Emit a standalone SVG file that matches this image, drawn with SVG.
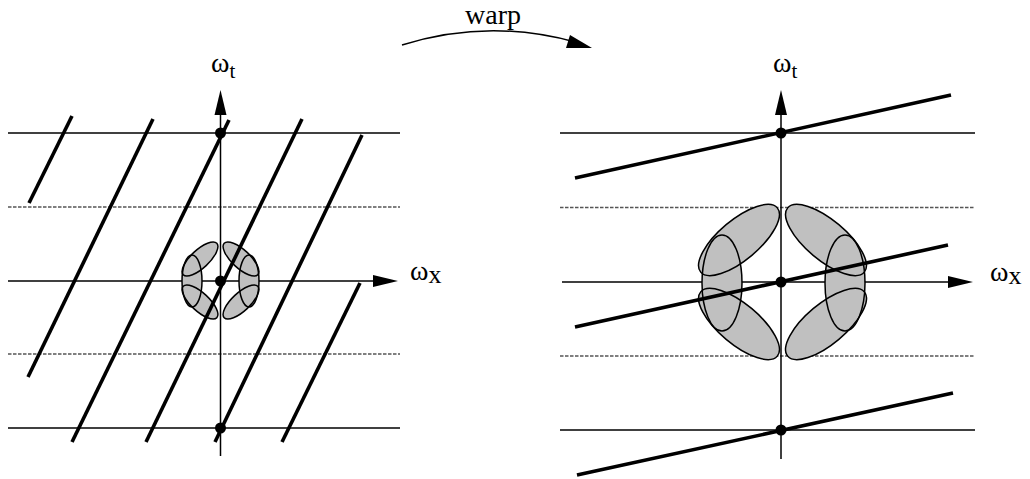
<svg xmlns="http://www.w3.org/2000/svg" width="1030" height="479" viewBox="0 0 1030 479">
<style>
.thin{stroke:#000;stroke-width:1.5;fill:none}
.dash{stroke:#555;stroke-width:1.6;stroke-dasharray:3.5 1.5;fill:none}
.thick{stroke:#000;stroke-width:3.6;fill:none;stroke-linecap:butt}
.ef{fill:#c0c0c0;stroke:none}
.es{fill:none;stroke:#000;stroke-width:1.5}
.dot{fill:#000}
.head{fill:#000}
.lbl{font-family:"Liberation Serif","Times New Roman",serif;fill:#000}
</style>
<rect width="1030" height="479" fill="#fff"/>

<g id="warp-arrow">
<path d="M402,45 Q488,18 575,42" class="thin" stroke-width="2"/>
<polygon class="head" points="592,48 570,35 566,48"/>
<text class="lbl" x="493" y="24" font-size="28" text-anchor="middle">warp</text>
</g>

<g id="left-panel">
<g id="left-grid">
<line class="thin" x1="8" y1="133" x2="400" y2="133"/>
<line class="thin" x1="8" y1="428" x2="400" y2="428"/>
<line class="dash" x1="8" y1="207" x2="400" y2="207"/>
<line class="dash" x1="8" y1="354" x2="400" y2="354"/>
<line class="thin" x1="8" y1="281" x2="376" y2="281"/>
<line class="thin" x1="220.5" y1="112" x2="220.5" y2="456"/>
<polygon class="head" points="398,281 373,275 373,287"/>
<polygon class="head" points="220.5,90 214.5,115 226.5,115"/>
</g>
<g id="left-cluster">
<ellipse class="ef" cx="200" cy="259" rx="23" ry="9" transform="rotate(-43 200 259)"/>
<ellipse class="ef" cx="241" cy="259" rx="23" ry="9" transform="rotate(43 241 259)"/>
<ellipse class="ef" cx="200" cy="302" rx="23" ry="9" transform="rotate(43 200 302)"/>
<ellipse class="ef" cx="241" cy="302" rx="23" ry="9" transform="rotate(-43 241 302)"/>
<ellipse class="ef" cx="192" cy="281" rx="10" ry="26"/>
<ellipse class="ef" cx="249" cy="281" rx="10" ry="26"/>
<ellipse class="es" cx="200" cy="259" rx="23" ry="9" transform="rotate(-43 200 259)"/>
<ellipse class="es" cx="241" cy="259" rx="23" ry="9" transform="rotate(43 241 259)"/>
<ellipse class="es" cx="200" cy="302" rx="23" ry="9" transform="rotate(43 200 302)"/>
<ellipse class="es" cx="241" cy="302" rx="23" ry="9" transform="rotate(-43 241 302)"/>
<ellipse class="es" cx="192" cy="281" rx="10" ry="26"/>
<ellipse class="es" cx="249" cy="281" rx="10" ry="26"/>
</g>
<g id="left-lines">
<line class="thick" x1="72" y1="116" x2="29" y2="203"/>
<line class="thick" x1="153" y1="119" x2="28" y2="377"/>
<line class="thick" x1="229" y1="120" x2="72" y2="442"/>
<line class="thick" x1="302" y1="119" x2="146" y2="442"/>
<line class="thick" x1="362" y1="135" x2="215" y2="442"/>
<line class="thick" x1="360" y1="283" x2="282" y2="442"/>
</g>
<circle class="dot" cx="220.5" cy="133" r="5.5"/>
<circle class="dot" cx="220.5" cy="281" r="5.5"/>
<circle class="dot" cx="220.5" cy="428" r="5.5"/>
<text class="lbl" x="211" y="72" font-size="28">ω<tspan font-size="21" dy="6">t</tspan></text>
<text class="lbl" x="410" y="280" font-size="28">ω<tspan font-size="26" dy="3">x</tspan></text>
</g>

<g id="right-panel">
<g id="right-grid">
<line class="thin" x1="560" y1="133" x2="975" y2="133"/>
<line class="thin" x1="560" y1="430" x2="975" y2="430"/>
<line class="dash" x1="560" y1="207.5" x2="975" y2="207.5"/>
<line class="dash" x1="560" y1="356" x2="975" y2="356"/>
<line class="thin" x1="562" y1="282" x2="950" y2="282"/>
<line class="thin" x1="781" y1="112" x2="781" y2="459"/>
<polygon class="head" points="973,282 948,276 948,288"/>
<polygon class="head" points="781,90 775,115 787,115"/>
</g>
<g id="right-cluster">
<ellipse class="ef" cx="739" cy="240" rx="50" ry="20" transform="rotate(-40 739 240)"/>
<ellipse class="ef" cx="826" cy="240" rx="50" ry="20" transform="rotate(40 826 240)"/>
<ellipse class="ef" cx="739" cy="324" rx="50" ry="20" transform="rotate(40 739 324)"/>
<ellipse class="ef" cx="826" cy="324" rx="50" ry="20" transform="rotate(-40 826 324)"/>
<ellipse class="ef" cx="722" cy="283" rx="20" ry="48"/>
<ellipse class="ef" cx="845" cy="283" rx="20" ry="48"/>
<ellipse class="es" cx="739" cy="240" rx="50" ry="20" transform="rotate(-40 739 240)"/>
<ellipse class="es" cx="826" cy="240" rx="50" ry="20" transform="rotate(40 826 240)"/>
<ellipse class="es" cx="739" cy="324" rx="50" ry="20" transform="rotate(40 739 324)"/>
<ellipse class="es" cx="826" cy="324" rx="50" ry="20" transform="rotate(-40 826 324)"/>
<ellipse class="es" cx="722" cy="283" rx="20" ry="48"/>
<ellipse class="es" cx="845" cy="283" rx="20" ry="48"/>
</g>
<g id="right-lines">
<line class="thick" x1="575" y1="178" x2="951" y2="95"/>
<line class="thick" x1="575" y1="327" x2="948" y2="245"/>
<line class="thick" x1="577" y1="475" x2="953" y2="393"/>
</g>
<circle class="dot" cx="781" cy="133" r="5.5"/>
<circle class="dot" cx="781" cy="282" r="5.5"/>
<circle class="dot" cx="781" cy="430" r="5.5"/>
<text class="lbl" x="773" y="72" font-size="28">ω<tspan font-size="21" dy="6">t</tspan></text>
<text class="lbl" x="990" y="281" font-size="28">ω<tspan font-size="26" dy="3">x</tspan></text>
</g>
</svg>
